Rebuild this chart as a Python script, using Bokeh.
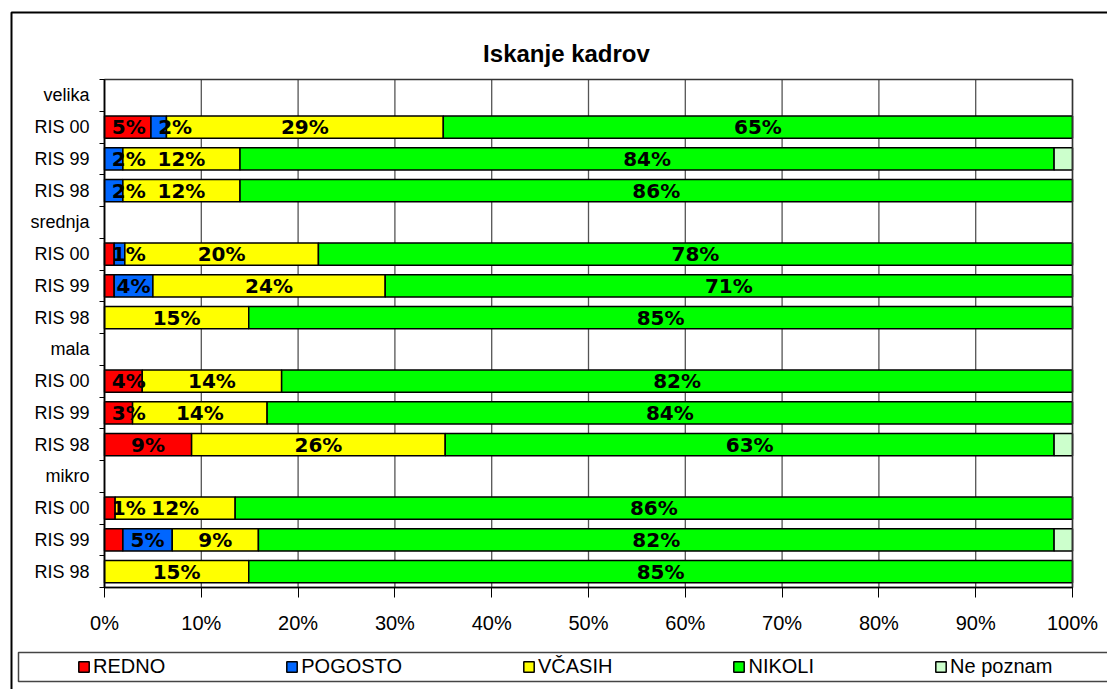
from bokeh.plotting import figure
from bokeh.models import (ColumnDataSource, FixedTicker, PrintfTickFormatter, Legend,
                          LegendItem, Range1d, LinearAxis, Label)
from bokeh.core.properties import value
from bokeh.embed import file_html
from bokeh.resources import INLINE

# ---- data (top row first) ----
rows = ["velika", "RIS 00", "RIS 99", "RIS 98",
        "srednja", "RIS 00", "RIS 99", "RIS 98",
        "mala", "RIS 00", "RIS 99", "RIS 98",
        "mikro", "RIS 00", "RIS 99", "RIS 98"]

series = ["REDNO", "POGOSTO", "VČASIH", "NIKOLI", "Ne poznam"]
colors = ["#FF0000", "#0066FF", "#FFFF00", "#00FF00", "#CCFFCC"]

redno     = [0, 4.8, 0,    0,    0, 1.0, 1.0, 0,    0, 3.9, 2.9, 9.0,  0, 1.1, 1.9, 0]
pogosto   = [0, 1.6, 1.9,  1.9,  0, 1.1, 4.0, 0,    0, 0,   0,   0,    0, 0,   5.1, 0]
vcasih    = [0, 28.6, 12.1, 12.1, 0, 20.0, 24.0, 14.9, 0, 14.4, 13.9, 26.2, 0, 12.4, 8.9, 14.9]
nikoli    = [0, 65.0, 84.1, 86.0, 0, 77.9, 71.0, 85.1, 0, 81.7, 83.2, 62.9, 0, 86.5, 82.2, 85.1]
ne_poznam = [0, 0,   1.9,  0,    0, 0,   0,   0,    0, 0,   0,   1.9,  0, 0,   1.9, 0]

redno_lbl     = ["", "5%", "", "", "", "", "", "", "", "4%", "3%", "9%", "", "1%", "", ""]
pogosto_lbl   = ["", "2%", "2%", "2%", "", "1%", "4%", "", "", "", "", "", "", "", "5%", ""]
vcasih_lbl    = ["", "29%", "12%", "12%", "", "20%", "24%", "15%", "", "14%", "14%", "26%", "", "12%", "9%", "15%"]
nikoli_lbl    = ["", "65%", "84%", "86%", "", "78%", "71%", "85%", "", "82%", "84%", "63%", "", "86%", "82%", "85%"]
ne_poznam_lbl = [""] * 16

x_ticks = list(range(0, 101, 10))
title_text = "Iskanje kadrov"

values = [redno, pogosto, vcasih, nikoli, ne_poznam]
labels = [redno_lbl, pogosto_lbl, vcasih_lbl, nikoli_lbl, ne_poznam_lbl]

n = len(rows)
ypos = [n - 1 - i for i in range(n)]
y_lo, y_hi = -0.5, n - 0.5

# ---- layout: the whole canvas is the frame; the plot area sits inside it ----
W, H = 1107, 689
AREA_L, AREA_R, AREA_T, AREA_B = 104, 1072, 79, 587   # plot area in pixels
sx = (AREA_R - AREA_L) / 100.0
sy = (AREA_B - AREA_T) / float(n)

def px_x(px):
    return (px - AREA_L) / sx

def px_y(py):
    return y_hi - (py - AREA_T) / sy

p = figure(width=W, height=H, output_backend="svg", toolbar_location=None,
           x_range=Range1d(px_x(0), px_x(W)), y_range=Range1d(px_y(H), px_y(0)),
           x_axis_location=None, y_axis_location=None, min_border=0)
p.background_fill_color = "white"
p.border_fill_color = "white"
p.outline_line_color = None
p.grid.visible = False

# outer chart frame (only its left and top edges fall inside the window)
p.quad(left=[px_x(11)], right=[px_x(1400)], top=[px_y(12)], bottom=[px_y(1000)],
       fill_color=None, line_color="black", line_width=2)

# vertical gridlines
p.segment(x0=x_ticks, y0=[y_lo] * len(x_ticks), x1=x_ticks, y1=[y_hi] * len(x_ticks),
          line_color="#555555", line_width=1.3)

# bars
cum = [0.0] * n
renderers = []
for name, vals, col in zip(series, values, colors):
    ys, lefts, rights = [], [], []
    for i in range(n):
        if vals[i] > 0:
            ys.append(ypos[i]); lefts.append(cum[i]); rights.append(cum[i] + vals[i])
    src = ColumnDataSource(dict(y=ys, left=lefts, right=rights))
    r = p.hbar(y="y", left="left", right="right", height=0.7, source=src,
               fill_color=col, line_color="black", line_width=1.5)
    renderers.append(r)
    for i in range(n):
        cum[i] += vals[i]

# plot area border
p.quad(left=[0], right=[100], top=[y_hi], bottom=[y_lo],
       fill_color=None, line_color="#333333", line_width=1.5)

# data labels (centred in segment, nudged right if they would collide)
lx, ly, lt = [], [], []
for i in range(n):
    start = 0.0
    prev_c = None
    for vals, lbls in zip(values, labels):
        v = vals[i]
        if lbls[i]:
            c = max(start + v / 2.0, 2.5)
            if prev_c is not None:
                c = max(c, prev_c + 4.8)
            lx.append(c); ly.append(ypos[i]); lt.append(lbls[i])
            prev_c = c
        start += v
p.text(x=lx, y=ly, text=lt, text_align="center", text_baseline="middle",
       text_font=value("DejaVu Sans"), text_font_style="bold", text_font_size="20px",
       text_color="black")

# axes, fixed at the plot area's edges
xaxis = LinearAxis(fixed_location=y_lo, bounds=(0, 100))
xaxis.ticker = FixedTicker(ticks=x_ticks)
xaxis.formatter = PrintfTickFormatter(format="%d%%")
xaxis.major_label_text_font = "Liberation Sans"
xaxis.major_label_text_font_size = "20px"
xaxis.major_label_text_color = "black"
xaxis.major_tick_out = 10
xaxis.major_tick_in = 0
xaxis.minor_tick_line_color = None
xaxis.axis_line_color = "black"
xaxis.axis_line_width = 1.5
xaxis.major_tick_line_color = "black"
xaxis.major_label_standoff = 14
p.add_layout(xaxis, "below")

yaxis = LinearAxis(fixed_location=0, bounds=(y_lo, y_hi))
yaxis.ticker = FixedTicker(ticks=ypos, minor_ticks=[k - 0.5 for k in range(n + 1)])
yaxis.major_label_overrides = {ypos[i]: rows[i] for i in range(n)}
yaxis.major_label_text_font = "Liberation Sans"
yaxis.major_label_text_font_size = "18px"
yaxis.major_label_text_color = "black"
yaxis.major_tick_line_color = None
yaxis.major_tick_out = 0
yaxis.major_tick_in = 0
yaxis.minor_tick_out = 5
yaxis.minor_tick_in = 0
yaxis.minor_tick_line_color = "black"
yaxis.axis_line_color = "black"
yaxis.axis_line_width = 1.5
yaxis.major_label_standoff = 10
p.add_layout(yaxis, "left")

# title
p.add_layout(Label(x=px_x(566), y=px_y(53), text=title_text, text_align="center",
                   text_baseline="middle", text_font="Liberation Sans",
                   text_font_size="24px", text_font_style="bold", text_color="black"))

# legend box and entries
p.quad(left=[px_x(18)], right=[px_x(1400)], top=[px_y(652)], bottom=[px_y(681)],
       fill_color=None, line_color="#444444", line_width=1.5)
items = [LegendItem(label=name, renderers=[r]) for name, r in zip(series, renderers)]
lg = Legend(items=items, orientation="horizontal", location=(77, 11.5),
            spacing=120, padding=0, margin=0,
            glyph_width=13, glyph_height=13, label_standoff=3, label_height=20,
            label_text_font="Liberation Sans", label_text_font_size="20px",
            label_text_color="black",
            border_line_alpha=0, background_fill_alpha=0)
p.add_layout(lg, "center")

open("out.html", "w", encoding="utf-8").write(file_html(p, INLINE))
